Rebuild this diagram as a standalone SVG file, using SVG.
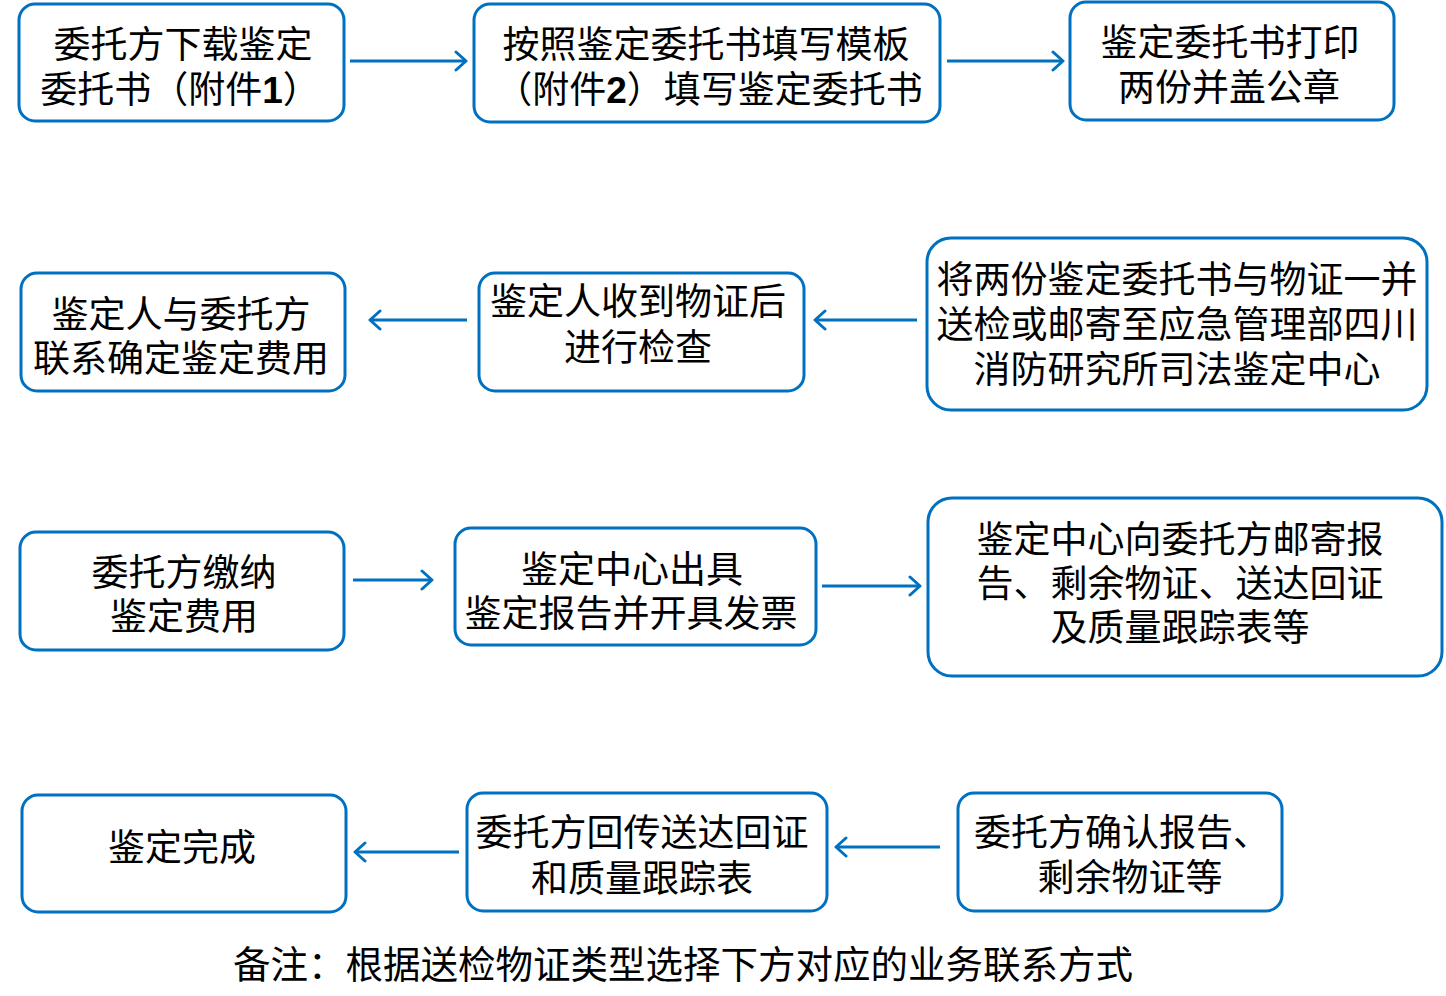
<svg xmlns="http://www.w3.org/2000/svg" width="1446" height="996" viewBox="0 0 1446 996">
<defs>
<style>
.box{fill:#fff;stroke:#0070C0;stroke-width:3}
.t{font-family:"Liberation Sans","Noto Sans CJK SC","Noto Sans CJK JP",sans-serif;font-size:37px;fill:#000;text-anchor:middle}
.b{font-weight:bold}
.c{fill:none;stroke:#0070C0;stroke-width:3}
</style>
<marker id="ah" viewBox="0 0 14 22" refX="12" refY="11" markerWidth="14" markerHeight="22" markerUnits="userSpaceOnUse" orient="auto">
<path d="M2,2 L12,11 L2,20" fill="none" stroke="#0070C0" stroke-width="3" stroke-linecap="round" stroke-linejoin="round"/>
</marker>
</defs>
<rect width="1446" height="996" fill="#fff"/>
<g id="n1"><rect class="box" x="19" y="4" width="325" height="117" rx="16"/><text class="t" x="183" y="58">委托方下载鉴定</text><text class="t" x="180" y="103">委托书（附件<tspan class="b">1</tspan>）</text></g>
<g id="n2"><rect class="box" x="474" y="4" width="466" height="118" rx="16"/><text class="t" x="706" y="58">按照鉴定委托书填写模板</text><text class="t" x="709" y="103">（附件<tspan class="b">2</tspan>）填写鉴定委托书</text></g>
<g id="n3"><rect class="box" x="1070" y="2" width="324" height="118" rx="16"/><text class="t" x="1230" y="56">鉴定委托书打印</text><text class="t" x="1229" y="101">两份并盖公章</text></g>
<g id="n4"><rect class="box" x="21" y="273" width="324" height="118" rx="16"/><text class="t" x="181" y="328">鉴定人与委托方</text><text class="t" x="181" y="372">联系确定鉴定费用</text></g>
<g id="n5"><rect class="box" x="479" y="273" width="325" height="118" rx="16"/><text class="t" x="638" y="315">鉴定人收到物证后</text><text class="t" x="638" y="361">进行检查</text></g>
<g id="n6"><rect class="box" x="927" y="238" width="500" height="172" rx="24"/><text class="t" x="1177" y="293">将两份鉴定委托书与物证一并</text><text class="t" x="1177" y="338">送检或邮寄至应急管理部四川</text><text class="t" x="1177" y="383">消防研究所司法鉴定中心</text></g>
<g id="n7"><rect class="box" x="20" y="532" width="324" height="118" rx="16"/><text class="t" x="184" y="586">委托方缴纳</text><text class="t" x="184" y="630">鉴定费用</text></g>
<g id="n8"><rect class="box" x="455" y="528" width="361" height="117" rx="16"/><text class="t" x="632" y="583">鉴定中心出具</text><text class="t" x="631" y="627">鉴定报告并开具发票</text></g>
<g id="n9"><rect class="box" x="928" y="498" width="514" height="178" rx="24"/><text class="t" x="1180" y="553">鉴定中心向委托方邮寄报</text><text class="t" x="1180" y="597">告、剩余物证、送达回证</text><text class="t" x="1180" y="641">及质量跟踪表等</text></g>
<g id="n10"><rect class="box" x="22" y="795" width="324" height="117" rx="16"/><text class="t" x="182" y="861">鉴定完成</text></g>
<g id="n11"><rect class="box" x="467" y="793" width="360" height="118" rx="16"/><text class="t" x="642" y="846">委托方回传送达回证</text><text class="t" x="642" y="892">和质量跟踪表</text></g>
<g id="n12"><rect class="box" x="958" y="793" width="324" height="118" rx="16"/><text class="t" x="1122" y="846">委托方确认报告、</text><text class="t" x="1130" y="891">剩余物证等</text></g>
<g id="connectors">
<line class="c" x1="350" y1="61" x2="466" y2="61" marker-end="url(#ah)"/>
<line class="c" x1="947" y1="61" x2="1063" y2="61" marker-end="url(#ah)"/>
<line class="c" x1="917" y1="320" x2="815" y2="320" marker-end="url(#ah)"/>
<line class="c" x1="467" y1="320" x2="370" y2="320" marker-end="url(#ah)"/>
<line class="c" x1="353" y1="580" x2="432" y2="580" marker-end="url(#ah)"/>
<line class="c" x1="822" y1="586" x2="920" y2="586" marker-end="url(#ah)"/>
<line class="c" x1="940" y1="847" x2="836" y2="847" marker-end="url(#ah)"/>
<line class="c" x1="459" y1="852" x2="355" y2="852" marker-end="url(#ah)"/>
</g>
<text class="t" x="683" y="978" style="font-size:37.5px">备注：根据送检物证类型选择下方对应的业务联系方式</text>
</svg>
